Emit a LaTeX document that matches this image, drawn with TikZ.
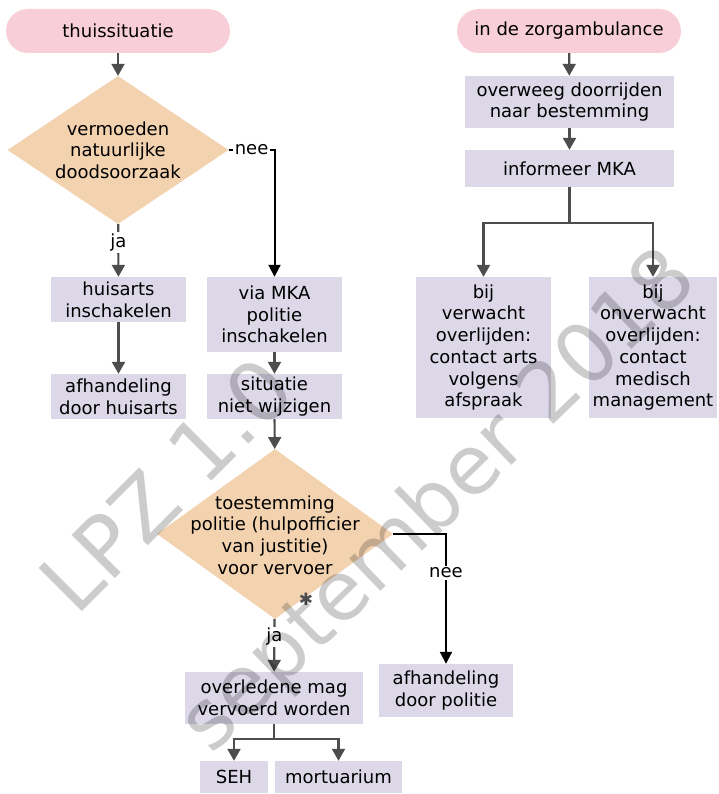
\documentclass[tikz,border=0pt]{standalone}
\usepackage{fontspec}
\setmainfont{DejaVu Sans}
\usetikzlibrary{shapes.geometric,arrows.meta}
\definecolor{startpink}{RGB}{248,207,216}
\definecolor{choicepeach}{RGB}{243,210,175}
\definecolor{steplav}{RGB}{220,216,232}
\definecolor{ink}{RGB}{77,77,77}
\begin{document}
\begin{tikzpicture}[x=1pt,y=-1pt,
  every node/.style={font=\fontsize{18}{21.7}\selectfont, align=center, inner sep=0pt},
  pillbox/.style={fill=startpink, rounded corners=22pt, minimum width=224pt, minimum height=44pt},
  stepbox/.style={fill=steplav},
  choice/.style={diamond, fill=choicepeach, aspect=1.5},
  garrow/.style={draw=ink, line width=2.2pt, -{Triangle[length=12pt,width=13pt]}},
  barrow/.style={draw=black, line width=2pt, -{Triangle[length=12pt,width=12pt]}},
  lbl/.style={fill=white, inner sep=1.5pt},
  watermark/.style={text=black, opacity=0.2, inner sep=0pt},
]
\fill[white] (0,0) rectangle (718,794);
\useasboundingbox (0,0) rectangle (718,794);

% left column: at home
\node[pillbox] (home) at (118,31) {thuissituatie};
\node[choice, minimum width=221pt, minimum height=148pt] (q1) at (118,150) {};
\node (q1t) at (q1) {vermoeden\\natuurlijke\\doodsoorzaak};
\node[stepbox, minimum width=135pt, minimum height=45pt] (hu) at (118.5,299.5) {huisarts\\inschakelen};
\node[stepbox, minimum width=135pt, minimum height=45pt] (hd) at (118.5,396.5) {afhandeling\\door huisarts};
\node[stepbox, minimum width=135pt, minimum height=75pt] (via) at (274.5,314.5) {via MKA\\politie\\inschakelen};
\node[stepbox, minimum width=135pt, minimum height=45pt] (sit) at (274.5,396.5) {situatie\\niet wijzigen};
\node[choice, minimum width=236pt, minimum height=170pt] (q2) at (275,534) {};
\node (q2t) at (275,535) {toestemming\\politie (hulpofficier\\van justitie)\\voor vervoer};
\node[text=ink, font=\fontsize{17}{17}\selectfont] (star) at (306,599) {✱};
\node[stepbox, minimum width=178pt, minimum height=52pt] (over) at (274,698) {overledene mag\\vervoerd worden};
\node[stepbox, minimum width=134pt, minimum height=53pt] (pol) at (446,690.5) {afhandeling\\door politie};
\node[stepbox, minimum width=68pt, minimum height=32pt] (seh) at (234,777) {SEH};
\node[stepbox, minimum width=127pt, minimum height=32pt] (mort) at (338.5,777) {mortuarium};

% right column: in the ambulance
\node[pillbox] (amb) at (569,31) {in de zorgambulance};
\node[stepbox, minimum width=209pt, minimum height=52pt] (ow) at (569.5,102) {overweeg doorrijden\\naar bestemming};
\node[stepbox, minimum width=209pt, minimum height=37pt] (inf) at (569.5,168.5) {informeer MKA};
\node[stepbox, minimum width=135pt, minimum height=141pt] (bv) at (483.5,347.5) {bij\\verwacht\\overlijden:\\contact arts\\volgens\\afspraak};
\node[stepbox, minimum width=128pt, minimum height=141pt] (bo) at (653,347.5) {bij\\onverwacht\\overlijden:\\contact\\medisch\\management};

% connectors
\draw[garrow] (home) -- (q1);
\draw[garrow] (q1) -- node[lbl, pos=0.35] {ja} (hu);
\draw[barrow] (q1.east) -| node[lbl, pos=0.25] {nee} (via.north);
\draw[garrow] (hu) -- (hd);
\draw[garrow] (via) -- (sit);
\draw[garrow] (sit) -- (q2);
\draw[garrow] (q2) -- node[lbl, pos=0.34] {ja} (over);
\draw[barrow] (q2.east) -| node[lbl, pos=0.65] {nee} (pol.north);
\draw[garrow] (over.south) -- ++(0,15) -| (seh.north);
\draw[garrow] (over.south) -- ++(0,15) -| (mort.north);

\draw[garrow] (amb) -- (ow);
\draw[garrow] (ow) -- (inf);
\draw[garrow] (inf.south) -- ++(0,36) -| (bv.north);
\draw[garrow] (inf.south) -- ++(0,36) -| (bo.north);

% watermark
\node[watermark, rotate=45, font=\fontsize{84}{84}\selectfont] (wm1) at (166,484) {LPZ 1.0};
\node[watermark, rotate=44, font=\fontsize{82}{82}\selectfont] (wm2) at (440,503) {september 2018};
\end{tikzpicture}
\end{document}
